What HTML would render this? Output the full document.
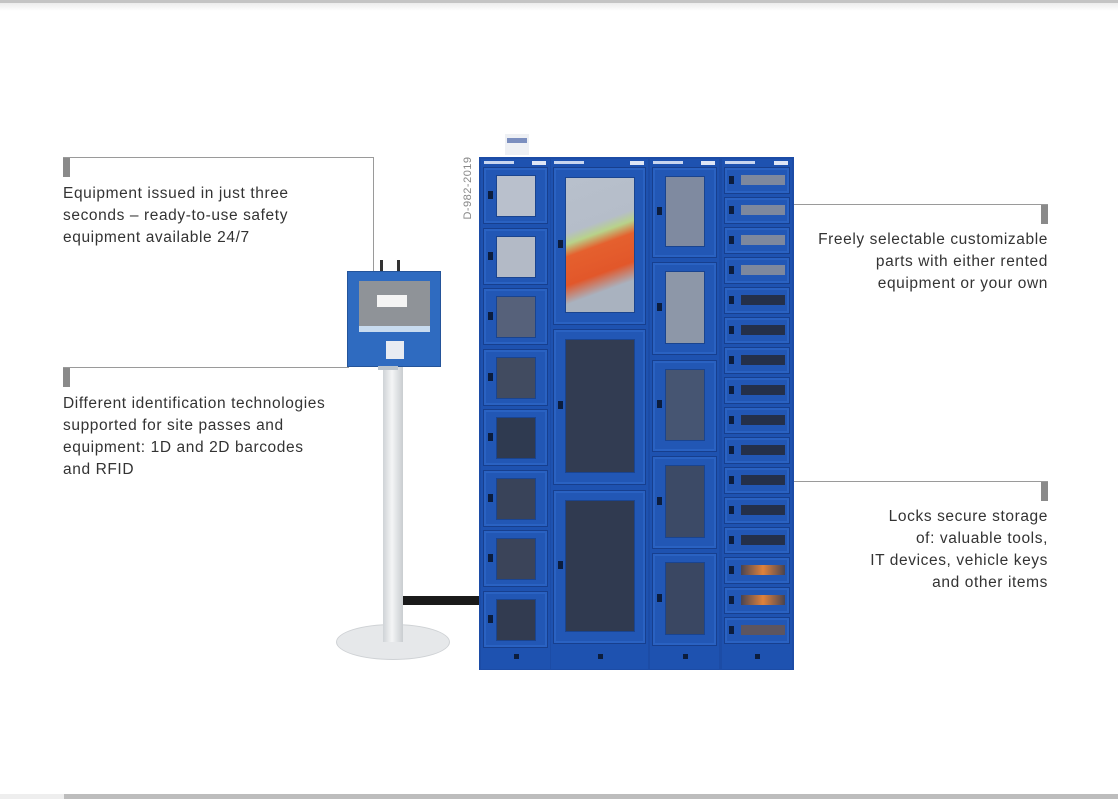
<!DOCTYPE html>
<html><head><meta charset="utf-8">
<style>
*{margin:0;padding:0;box-sizing:border-box}
body{width:1118px;height:799px;background:#fff;position:relative;overflow:hidden;font-family:"Liberation Sans",Arial,sans-serif}
.a{position:absolute}
.t{position:absolute;font-size:15.5px;line-height:22px;color:#333;letter-spacing:0.6px;white-space:nowrap}
.r{text-align:right}
.ln{position:absolute;background:#9a9a9a}
.mk{position:absolute;background:#8a8a8a;width:7px;height:19px}
.door{position:absolute;background:#2257b5;border:1px solid #173f8e;box-shadow:inset 0 0 0 2px #2a62c2}
.win{position:absolute;border:1px solid #1a448f}
.lock{position:absolute;background:#0c1d3d;width:5px;height:8px}
</style></head><body>
<div class="a" style="left:0;top:0;width:1118px;height:3px;background:#c4c4c4"></div>
<div class="a" style="left:0;top:3px;width:1118px;height:8px;background:linear-gradient(#ececec,#fff)"></div>
<div class="a" style="left:0;top:794px;width:64px;height:5px;background:#eee"></div>
<div class="a" style="left:64px;top:794px;width:1054px;height:5px;background:#bdbdbd"></div>

<div class="ln" style="left:63px;top:157px;width:311px;height:1px"></div>
<div class="ln" style="left:373px;top:157px;width:1px;height:120px"></div>
<div class="mk" style="left:63px;top:158px"></div>
<div class="t" style="left:63px;top:183px">Equipment issued in just three<br>seconds – ready-to-use safety<br>equipment available 24/7</div>

<div class="ln" style="left:63px;top:367px;width:286px;height:1px"></div>
<div class="mk" style="left:63px;top:368px"></div>
<div class="t" style="left:63px;top:393px">Different identification technologies<br>supported for site passes and<br>equipment: 1D and 2D barcodes<br>and RFID</div>

<div class="ln" style="left:706px;top:204px;width:342px;height:1px"></div>
<div class="mk" style="left:1041px;top:205px"></div>
<div class="t r" style="right:70px;top:229px">Freely selectable customizable<br>parts with either rented<br>equipment or your own</div>

<div class="ln" style="left:760px;top:481px;width:288px;height:1px"></div>
<div class="mk" style="left:1041px;top:482px"></div>
<div class="t r" style="right:70px;top:506px">Locks secure storage<br>of: valuable tools,<br>IT devices, vehicle keys<br>and other items</div>

<div class="a" style="left:380px;top:260px;width:3px;height:14px;background:#333"></div>
<div class="a" style="left:397px;top:260px;width:3px;height:14px;background:#333"></div>
<div class="a" style="left:336px;top:624px;width:114px;height:36px;border-radius:50%;background:#e6e8ea;border:1px solid #cfd2d5"></div>
<div class="a" style="left:402px;top:596px;width:78px;height:9px;background:#1a1a1a"></div>
<div class="a" style="left:383px;top:366px;width:20px;height:276px;background:linear-gradient(90deg,#cfd3d6,#f4f5f6 45%,#c9cdd0)"></div>
<div class="a" style="left:347px;top:271px;width:94px;height:96px;background:#2f6bc0;border:1px solid #24549a"></div>
<div class="a" style="left:359px;top:281px;width:71px;height:51px;background:#8f9398"></div>
<div class="a" style="left:359px;top:326px;width:71px;height:6px;background:#c8dbef"></div>
<div class="a" style="left:377px;top:295px;width:30px;height:12px;background:#f4f4f4"></div>
<div class="a" style="left:386px;top:341px;width:18px;height:18px;background:#e8ecf2"></div>
<div class="a" style="left:378px;top:366px;width:20px;height:4px;background:#b9c3cc"></div>

<div class="a" style="left:505px;top:134px;width:24px;height:21px;background:#eef0f4"></div>
<div class="a" style="left:507px;top:138px;width:20px;height:5px;background:#7c8fbf"></div>
<div class="a" style="left:428px;top:181px;width:80px;height:14px;transform:rotate(-90deg);font-size:11px;color:#888;letter-spacing:0.5px;text-align:center;line-height:14px;white-space:nowrap">D-982-2019</div>
<div class="a" id="cab" style="left:479px;top:157px;width:315px;height:513px;background:#1c4ca6"></div>

<script>
var cab=document.getElementById('cab');
function add(cls,l,t,w,h,bg){var d=document.createElement('div');d.className=cls;d.style.cssText='left:'+l+'px;top:'+t+'px;width:'+w+'px;height:'+h+'px;'+(bg?'background:'+bg:'');cab.appendChild(d);return d;}
var cols=[[2,69],[72,97],[171,69],[243,70]];
cols.forEach(function(c){add('a',c[0],2,c[1],510,'#1e52b0');add('a',c[0]+3,4,30,3,'#c9d6ef');add('a',c[0]+c[1]-18,4,14,4,'#dfe6f5');add('lock',c[0]+c[1]/2-2,497,5,5);});
var c1=['#b9c0cc','#b3bac6','#56617a','#414b60','#2f3a50','#394359','#3b4459','#323b50'];
for(var i=0;i<8;i++){var y=10+i*60.5;add('door',4,y,65,57);add('win',17,y+8,40,42,c1[i]);add('lock',9,y+24,5,8);}
var c2=[[10,158,'linear-gradient(160deg,#b8c0cc 0%,#b5bdc9 35%,#b8d28a 42%,#e5602e 50%,#e2572a 68%,#a9b2bf 80%)'],[172,156,'#323c52'],[333,154,'#303a50']];
c2.forEach(function(d){add('door',74,d[0],93,d[1]);add('win',86,d[0]+10,70,d[1]-22,d[2]);add('lock',79,d[0]+d[1]/2-6,5,8);});
var c3=[[10,91,'#7f8aa0'],[105,93,'#8d97a8'],[203,92,'#465572'],[299,93,'#3c4a66'],[396,93,'#3a4762']];
c3.forEach(function(d){add('door',173,d[0],65,d[1]);add('win',186,d[0]+9,40,d[1]-20,d[2]);add('lock',178,d[0]+d[1]/2-6,5,8);});
for(var j=0;j<16;j++){var y=10+j*30;add('door',245,y,66,27);var col=j<4?'#7d889e':(j<13?'#24304a':'#5d5560');if(j==13||j==14)col='linear-gradient(90deg,#4a4450,#e0823c,#4a4450)';add('a',262,y+8,44,10,col);add('lock',250,y+9,5,8);}
</script>
</body></html>
